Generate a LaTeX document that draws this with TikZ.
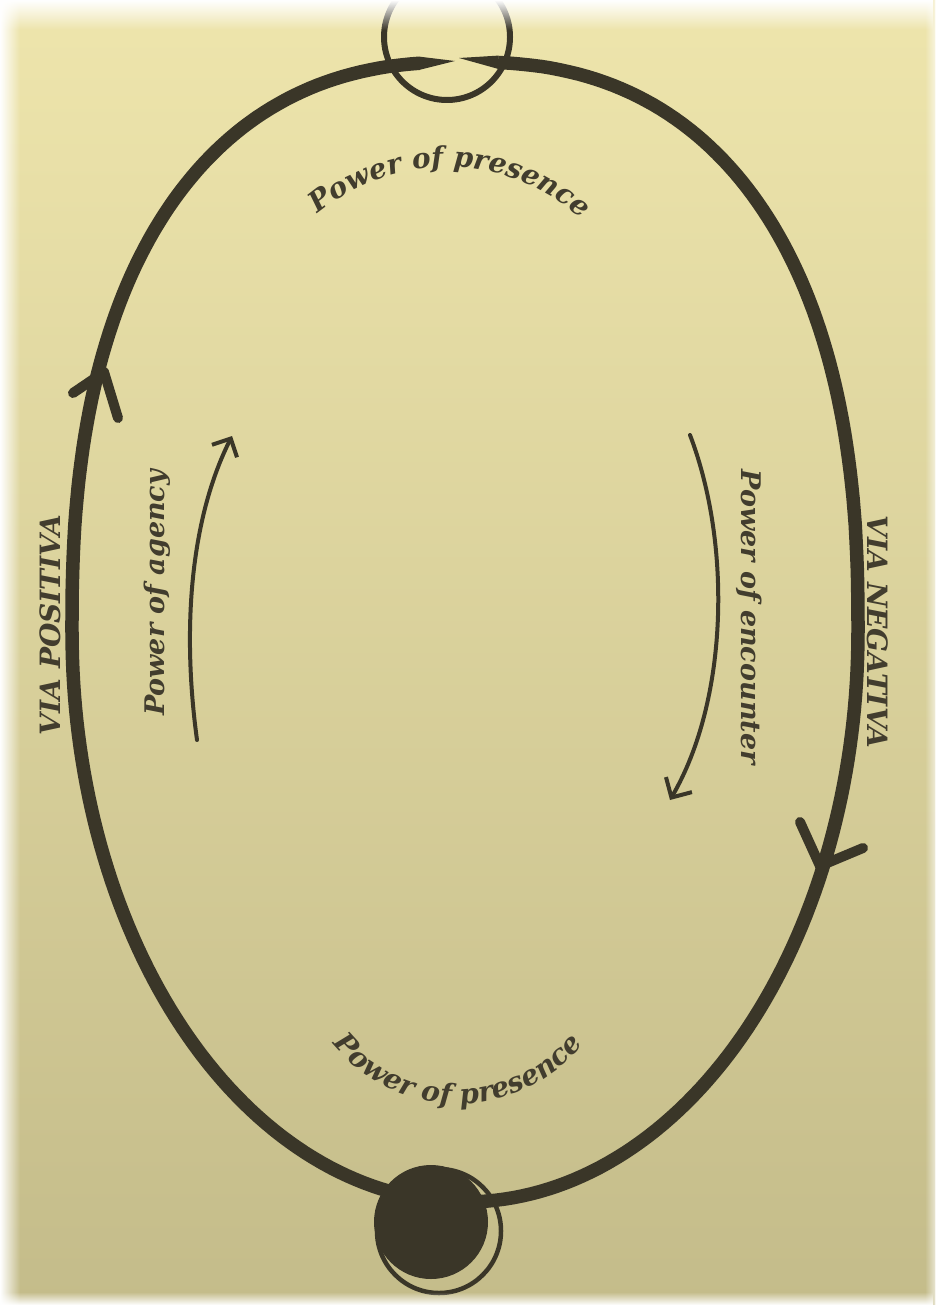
\documentclass[tikz,border=0pt]{standalone}
\usepackage{fontspec}
\newfontfamily\labfam{DejaVu Serif}
\usetikzlibrary{decorations.text,fadings,arrows.meta}
\definecolor{page}{RGB}{230,221,156}
\definecolor{pagetop}{RGB}{238,229,172}
\definecolor{pagebot}{RGB}{196,188,138}
\definecolor{ink}{RGB}{58,54,40}
\definecolor{inktext}{RGB}{66,61,46}
\newcommand\lblfont{\labfam\bfseries\itshape\fontsize{27}{30}\selectfont}
\newcommand\arcfont{\labfam\bfseries\itshape\fontsize{28}{30}\selectfont}
\newcommand\viafont{\labfam\bfseries\itshape\fontsize{28}{30}\selectfont}
\begin{document}
\begin{tikzpicture}[x=1pt,y=-1pt,
  ring/.style={draw=ink, line width=13.5pt, line join=round},
  barb/.style={draw=ink, line width=10pt, line cap=round},
  lbl/.style={font=\lblfont, text=inktext, inner sep=0pt},
  vialbl/.style={font=\viafont, text=inktext, inner sep=0pt},
  thinarrow/.style={draw=ink, line width=4pt, line cap=round}]
% page
\shade[top color=pagetop, middle color=page, bottom color=pagebot] (0,0) rectangle (935,1305);
\useasboundingbox (0,0) rectangle (935,1305);
% main loop
\draw[ring] plot[domain=94.25:180, samples=70, variable=\t]
   ({465-393*pow(abs(cos(\t))+0.0001,0.8333)},{632-570*pow(abs(sin(\t))+0.0001,0.8333)})
 -- plot[domain=180:360, samples=140, variable=\t] ({465+393*cos(\t)},{632-570*sin(\t)})
 -- plot[domain=0:87.07, samples=70, variable=\t]
   ({465+393*pow(abs(cos(\t))+0.0001,0.8333)},{632-570*pow(abs(sin(\t))+0.0001,0.8333)});
% tapered ends at the top
\coordinate (tipL) at (455,61);
\coordinate (tipR) at (459,58);
\fill[ink] (419,56.6) -- (tipL) -- (419,70) -- cycle;
\fill[ink] (tipR) -- (498.5,55.6) -- (498.5,69) -- cycle;
% top circle
\node[circle, draw=ink, line width=6pt, minimum size=126pt, inner sep=0pt] (topc) at (447,37) {};
% bottom circles
\node[circle, fill=ink, minimum size=114pt, inner sep=0pt] (botfill) at (431,1222) {};
\node[circle, draw=ink, line width=4.5pt, minimum size=124pt, inner sep=0pt] (botring) at (439,1231) {};
% arrowheads on the loop
\coordinate (lj) at (104,372);
\coordinate (lb1) at (73,393);
\coordinate (lb2) at (118,418);
\draw[barb] (lb1) -- (lj);
\draw[barb] (lb2) -- (lj);
\coordinate (rj) at (820,866);
\coordinate (rb1) at (800,822);
\coordinate (rb2) at (863,848);
\draw[barb] (rb1) -- (rj);
\draw[barb] (rb2) -- (rj);
% inner arrows
\coordinate (ag0) at (197,740);
\coordinate (ag1) at (232,436);
\draw[thinarrow, -{Straight Barb[length=14pt,width=28pt]}] (ag0) .. controls (182,630) and (190,520) .. (ag1);
\coordinate (en0) at (690,435);
\coordinate (en1) at (670,800);
\draw[thinarrow, -{Straight Barb[length=15pt,width=30pt]}] (en0) .. controls (732,545) and (728,700) .. (en1);
% labels
\node[vialbl, rotate=90] (vpos) at (50,625) {VIA POSITIVA};
\node[vialbl, rotate=-90] (vneg) at (878,632) {VIA NEGATIVA};
\node[lbl, rotate=90] (agency) at (157,593) {Power of agency};
\node[lbl, rotate=-90] (encounter) at (749,617) {Power of encounter};
\path[decorate, decoration={text along path, text align=center,
   text={|\arcfont\color{inktext}|Power of presence}}]
   (447,367) ++(-154:200) arc[start angle=-154, end angle=-24, radius=200];
\path[decorate, decoration={text along path, text align=center,
   text={|\arcfont\color{inktext}|Power of presence}}]
   (458,944) ++(160:160) arc[start angle=160, end angle=20, radius=160];
% photo edge fades
\fill[white, path fading=south] (0,0) rectangle (935,30);
\fill[white, path fading=east] (0,0) rectangle (20,1305);
\fill[white, path fading=north] (0,1292) rectangle (935,1305);
\fill[white, opacity=0.6, path fading=west] (925,0) rectangle (935,1305);
\end{tikzpicture}
\end{document}
